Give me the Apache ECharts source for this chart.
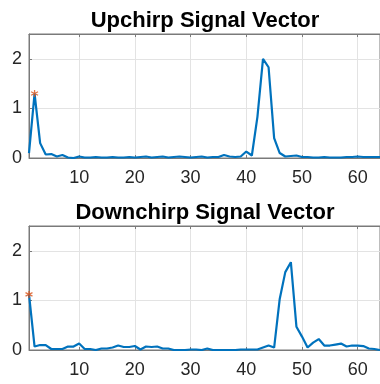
<!DOCTYPE html>
<html>
<head>
<meta charset="utf-8">
<script src="https://cdn.jsdelivr.net/npm/echarts@6/dist/echarts.min.js"></script>
<style>
  html, body { margin: 0; padding: 0; background: #fff; }
  #chart { width: 380px; height: 384px; }
</style>
</head>
<body>
<div id="chart"></div>
<script>
// Sample index 1..64
const sampleIndex = Array.from({ length: 64 }, (_, i) => i + 1);

// Magnitude of the dechirped upchirp vector
const upchirpValues = [
  0.10, 1.30, 0.30, 0.07, 0.08, 0.03, 0.06, 0.01, 0.00, 0.03,
  0.01, 0.01, 0.02, 0.01, 0.01, 0.02, 0.01, 0.01, 0.02, 0.01,
  0.02, 0.03, 0.01, 0.02, 0.03, 0.01, 0.02, 0.03, 0.02, 0.01,
  0.02, 0.03, 0.01, 0.02, 0.02, 0.06, 0.03, 0.02, 0.03, 0.13,
  0.05, 0.83, 2.00, 1.83, 0.40, 0.10, 0.03, 0.04, 0.05, 0.02,
  0.02, 0.01, 0.01, 0.02, 0.01, 0.01, 0.01, 0.02, 0.02, 0.03,
  0.02, 0.02, 0.02, 0.02
];

// Magnitude of the dechirped downchirp vector
const downchirpValues = [
  1.12, 0.07, 0.10, 0.10, 0.02, 0.02, 0.02, 0.07, 0.07, 0.13,
  0.02, 0.02, 0.00, 0.03, 0.03, 0.05, 0.09, 0.06, 0.06, 0.08,
  0.01, 0.07, 0.06, 0.07, 0.03, 0.03, 0.00, 0.00, 0.00, 0.01,
  0.01, 0.00, 0.03, 0.00, 0.00, 0.00, 0.00, 0.00, 0.01, 0.01,
  0.01, 0.01, 0.05, 0.09, 0.05, 1.03, 1.57, 1.77, 0.47, 0.27,
  0.05, 0.15, 0.22, 0.09, 0.09, 0.11, 0.13, 0.07, 0.09, 0.09,
  0.08, 0.03, 0.02, 0.00
];

// Detected peak markers [index, value]
const upchirpPeak = [[2, 1.30]];
const downchirpPeak = [[1, 1.12]];

const titles = ['Upchirp Signal Vector', 'Downchirp Signal Vector'];

const FONT = 'Liberation Sans, Arial, Helvetica, sans-serif';
const LINE_BLUE = '#0072BD';
const MARK_ORANGE = '#D95319';
const FRAME = '#7a7a7a';
const GRIDLINE = '#e3e3e3';
const LABEL = '#262626';

const asterisk = 'path://M5,0 L5,10 M0.7,2.5 L9.3,7.5 M0.7,7.5 L9.3,2.5';

const grids = [
  { left: 29, right: -7, top: 34, height: 124 },
  { left: 29, right: -7, top: 226, height: 124 }
];

function bottomX(gi) {
  return {
    type: 'value', gridIndex: gi, position: 'bottom',
    min: 1, max: 64, splitNumber: 5,
    axisLine: { show: true, lineStyle: { color: FRAME, width: 1 } },
    axisTick: { show: true, inside: true, length: 3, lineStyle: { color: FRAME } },
    axisLabel: {
      color: LABEL, fontFamily: FONT, fontSize: 18, margin: 11,
      showMinLabel: false, showMaxLabel: false
    },
    splitLine: { show: true, lineStyle: { color: GRIDLINE, width: 1 } }
  };
}
function topX(gi) {
  return {
    type: 'value', gridIndex: gi, position: 'top',
    min: 1, max: 64, splitNumber: 5,
    axisLine: { show: true, lineStyle: { color: FRAME, width: 1 } },
    axisTick: { show: true, inside: true, length: 3, lineStyle: { color: FRAME } },
    axisLabel: { show: false },
    splitLine: { show: false }
  };
}
function leftY(gi) {
  return {
    type: 'value', gridIndex: gi,
    min: 0, max: 2.5, interval: 1,
    axisLine: { show: true, lineStyle: { color: FRAME, width: 1 } },
    axisTick: { show: true, inside: true, length: 3, lineStyle: { color: FRAME } },
    axisLabel: {
      color: LABEL, fontFamily: FONT, fontSize: 18, margin: 7,
      showMaxLabel: false
    },
    splitLine: { show: true, lineStyle: { color: GRIDLINE, width: 1 } }
  };
}

function signalLine(xi, values) {
  return {
    type: 'line', xAxisIndex: xi, yAxisIndex: xi / 2 | 0,
    data: sampleIndex.map((x, i) => [x, values[i]]),
    showSymbol: false, symbol: 'none',
    lineStyle: { color: LINE_BLUE, width: 2.2 },
    animation: false, z: 3
  };
}
function peakMark(xi, pts) {
  return {
    type: 'scatter', xAxisIndex: xi, yAxisIndex: xi / 2 | 0,
    data: pts, symbol: asterisk, symbolSize: 7,
    itemStyle: { color: 'none', borderColor: MARK_ORANGE, borderWidth: 1.3 },
    animation: false, z: 4
  };
}

const chart = echarts.init(document.getElementById('chart'), null, { renderer: 'canvas' });
chart.setOption({
  backgroundColor: '#ffffff',
  animation: false,
  title: [
    { text: titles[0], left: 200, top: 5, textAlign: 'center',
      textStyle: { fontFamily: FONT, fontSize: 22, fontWeight: 'bold', color: '#000' } },
    { text: titles[1], left: 200, top: 197, textAlign: 'center',
      textStyle: { fontFamily: FONT, fontSize: 22, fontWeight: 'bold', color: '#000' } }
  ],
  grid: grids.map(g => Object.assign({ show: true, borderColor: FRAME, borderWidth: 1, containLabel: false }, g)),
  xAxis: [bottomX(0), topX(0), bottomX(1), topX(1)],
  yAxis: [leftY(0), leftY(1)],
  series: [
    signalLine(0, upchirpValues),
    peakMark(0, upchirpPeak),
    signalLine(2, downchirpValues),
    peakMark(2, downchirpPeak)
  ]
});
</script>
</body>
</html>
